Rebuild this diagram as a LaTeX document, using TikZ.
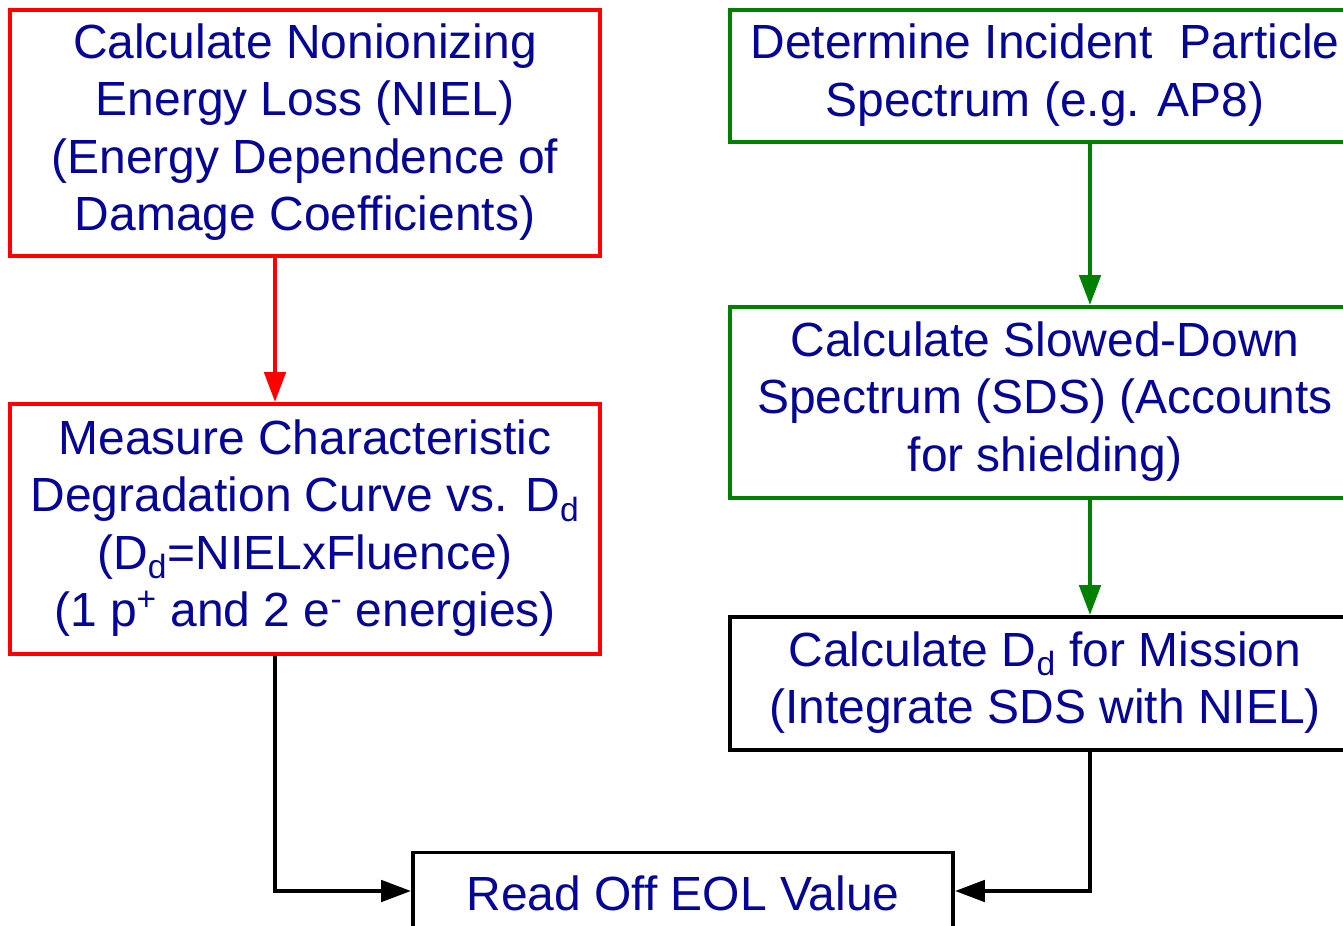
\documentclass[tikz,border=0pt]{standalone}
\usepackage{fontspec}
\setmainfont{Liberation Sans}
\usetikzlibrary{arrows.meta}
\definecolor{txtblue}{RGB}{5,5,150}
\definecolor{boxred}{RGB}{255,0,0}
\definecolor{boxgreen}{RGB}{0,128,0}
\newcommand{\mylines}[1]{\begin{tabular}{@{}c@{}}\rule{0pt}{\dimexpr0.7\baselineskip+0.17cm\relax}#1\end{tabular}}
\tikzset{
  stepbox/.style={draw, line width=0.075cm, fill=white, inner sep=0pt,
    text=txtblue, font=\fontsize{27.3}{32.6}\selectfont},
  flowarrow/.style={line width=0.095cm, -{Triangle[length=0.6cm,width=0.42cm]}}
}
\begin{document}
\begin{tikzpicture}[x=0.02cm,y=-0.02cm]
\useasboundingbox (0,0) rectangle (1343,926);
\clip (0,0) rectangle (1343,926);
\fill[white] (0,0) rectangle (1343,926);
\coordinate (xl) at (275,0);
\coordinate (xr) at (1090,0);

\node[stepbox, draw=boxred, minimum width=11.8cm, minimum height=4.92cm] (A) at (305,133)
  {\mylines{Calculate Nonionizing\\Energy Loss (NIEL)\\(Energy Dependence of\\Damage Coefficients)}};
\node[stepbox, draw=boxred, minimum width=11.8cm, minimum height=5.0cm] (B) at (305,529)
  {\mylines{Measure Characteristic\\Degradation Curve vs. D\textsubscript{d}\\(D\textsubscript{d}=NIELxFluence)\\(1 p\textsuperscript{+} and 2 e\textsuperscript{-} energies)}};
\node[stepbox, draw=boxgreen, minimum width=12.6cm, minimum height=2.64cm] (C) at (1045,76)
  {\mylines{Determine Incident\ \ Particle\\Spectrum (e.g. AP8)}};
\node[stepbox, draw=boxgreen, minimum width=12.6cm, minimum height=3.82cm] (D) at (1045,402.5)
  {\mylines{Calculate Slowed-Down\\Spectrum (SDS) (Accounts\\for shielding)}};
\node[stepbox, draw=black, minimum width=12.6cm, minimum height=2.66cm] (E) at (1045,683.5)
  {\mylines{Calculate D\textsubscript{d} for Mission\\(Integrate SDS with NIEL)}};
\node[stepbox, draw=black, minimum width=10.8cm, minimum height=1.7cm] (F) at (683,895)
  {\raisebox{0.07cm}{Read Off EOL Value}};

\draw[flowarrow, boxred] (A.south -| xl) -- (B.north -| xl);
\draw[flowarrow, boxgreen] (C.south -| xr) -- (D.north -| xr);
\draw[flowarrow, boxgreen] (D.south -| xr) -- (E.north -| xr);
\draw[flowarrow, black] (B.south -| xl) |- ([yshift=0.08cm]F.west);
\draw[flowarrow, black] (E.south -| xr) |- ([yshift=0.08cm]F.east);
\end{tikzpicture}
\end{document}
